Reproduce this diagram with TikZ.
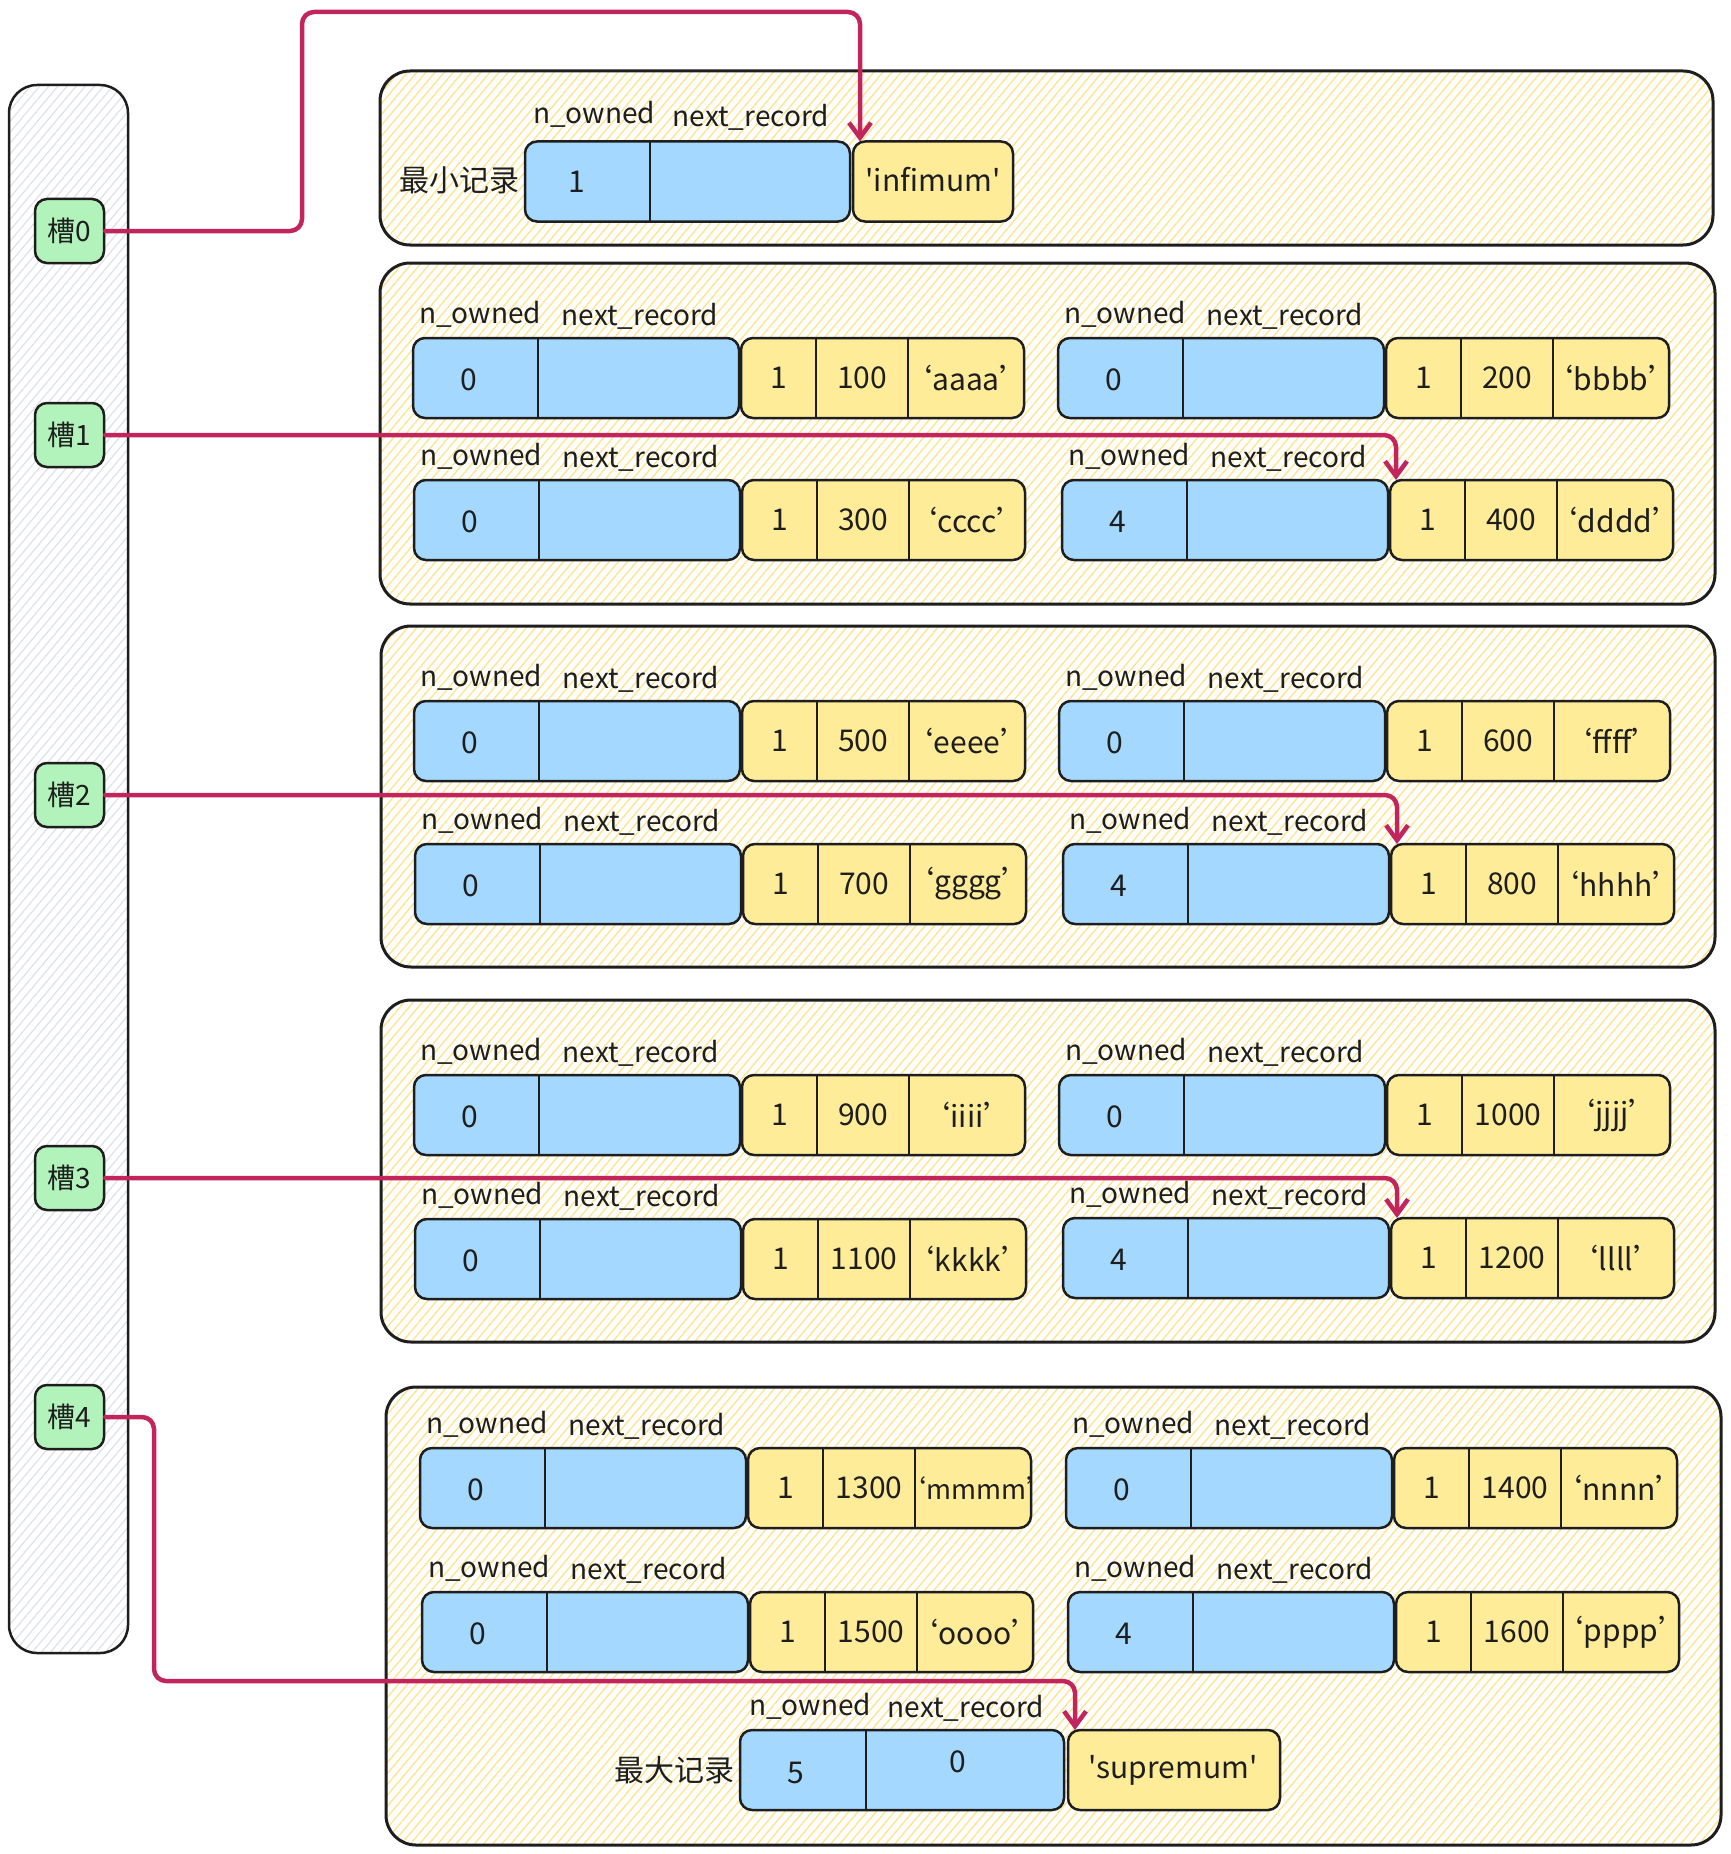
\documentclass[tikz,border=0pt]{standalone}
\usepackage{fontspec}
\setmainfont{Noto Sans CJK SC}
\usetikzlibrary{arrows.meta,patterns.meta}

\definecolor{recblue}{HTML}{A5D8FF}
\definecolor{recyellow}{HTML}{FFEC99}
\definecolor{slotgreen}{HTML}{B2F2BB}
\definecolor{linkred}{HTML}{C2255C}
\definecolor{hatchyellow}{HTML}{FFE48A}
\definecolor{hatchgrey}{HTML}{DEE2E6}
\definecolor{ink}{HTML}{1E1E1E}

\tikzset{
  cell/.style={draw=ink, line width=2.5pt, rounded corners=12pt, inner sep=0pt,
    outer sep=0pt, minimum height=80pt, anchor=west},
  bluebox/.style={cell, fill=recblue, minimum width=326pt},
  yelbox/.style={cell, fill=recyellow, minimum width=283pt},
  divider/.style={draw=ink, line width=2pt},
  val/.style={font=\fontsize{30}{36}\selectfont, text=ink, inner sep=0pt},
  lbl/.style={font=\fontsize{28}{34}\selectfont, text=ink, inner sep=0pt, anchor=base},
  group/.style={draw=ink, line width=3pt, rounded corners=30pt, inner sep=0pt,
    outer sep=0pt, anchor=north west,
    pattern={Lines[angle=50,distance=7pt,line width=1.3pt]}, pattern color=hatchyellow},
  column/.style={draw=ink, line width=2.5pt, rounded corners=28pt, inner sep=0pt,
    outer sep=0pt, anchor=north west,
    pattern={Lines[angle=50,distance=7pt,line width=1.2pt]}, pattern color=hatchgrey},
  slot/.style={draw=ink, fill=slotgreen, line width=2.5pt, rounded corners=12pt,
    minimum width=69pt, minimum height=64pt, inner sep=0pt,
    font=\fontsize{28}{34}\selectfont, text=ink},
  link/.style={draw=linkred, line width=4.5pt, rounded corners=12pt, line cap=round,
    line join=round, -{Straight Barb[length=15pt,width=22pt]}},
}

% one record: blue header (n_owned | next_record) followed by yellow data cells
% #1 name, #2 left x, #3 centre y, #4 n_owned, #5 key, #6 string
\newcommand{\drawrecord}[6]{%
  \node[bluebox] (#1b) at (#2,#3) {};
  \node[yelbox] (#1y) at (#2+328,#3) {};
  \draw[divider] ([xshift=125pt]#1b.north west) -- ([xshift=125pt]#1b.south west);
  \draw[divider] ([xshift=75pt]#1y.north west) -- ([xshift=75pt]#1y.south west);
  \draw[divider] ([xshift=167pt]#1y.north west) -- ([xshift=167pt]#1y.south west);
  \node[val] (#1n) at ([xshift=56pt,yshift=-2pt]#1b.west) {#4};
  \node[val] (#1c) at ([xshift=38pt]#1y.west) {1};
  \node[val] (#1k) at ([xshift=121pt]#1y.west) {#5};
  \node[val] (#1s) at ([xshift=225pt]#1y.west) {#6};
  \node[lbl] (#1la) at ([xshift=67pt,yshift=15pt]#1b.north west) {n\_owned};
  \node[lbl] (#1lb) at ([xshift=227pt,yshift=13pt]#1b.north west) {next\_record};
}

\begin{document}
\begin{tikzpicture}[x=1pt,y=-1pt]
\fill[white] (0,0) rectangle (1730,1854);
\useasboundingbox (0,0) rectangle (1730,1854);

% slot directory
\node[column, minimum width=119pt, minimum height=1568pt] (col) at (9,85) {};
\node[slot] (s0) at (69.5,231) {槽0};
\node[slot] (s1) at (69.5,435) {槽1};
\node[slot] (s2) at (69.5,795) {槽2};
\node[slot] (s3) at (69.5,1178) {槽3};
\node[slot] (s4) at (69.5,1417) {槽4};

% record groups
\node[group, minimum width=1333pt, minimum height=174pt] (g0) at (380,71) {};
\node[group, minimum width=1335pt, minimum height=341pt] (g1) at (380,263) {};
\node[group, minimum width=1334pt, minimum height=341pt] (g2) at (381,626) {};
\node[group, minimum width=1334pt, minimum height=342pt] (g3) at (381,1000) {};
\node[group, minimum width=1335pt, minimum height=458pt] (g4) at (386,1387) {};

% infimum
\node[bluebox, minimum width=325pt] (infb) at (525,181.5) {};
\node[yelbox, minimum width=160pt] (infy) at (853,181.5) {};
\draw[divider] ([xshift=125pt]infb.north west) -- ([xshift=125pt]infb.south west);
\node[val] (infn) at (577,182) {1};
\node[val] (infs) at (933,180) {\textquotesingle infimum\textquotesingle};
\node[lbl] (infla) at (594,124) {n\_owned};
\node[lbl] (inflb) at (751,127) {next\_record};
\node[val] (inft) at (459,180) {最小记录};

% ordinary records
\drawrecord{ra}{413}{378}{0}{100}{‘aaaa’}
\drawrecord{rb}{1058}{378}{0}{200}{‘bbbb’}
\drawrecord{rc}{414}{520}{0}{300}{‘cccc’}
\drawrecord{rd}{1062}{520}{4}{400}{‘dddd’}

\drawrecord{re}{414}{741}{0}{500}{‘eeee’}
\drawrecord{rf}{1059}{741}{0}{600}{‘ffff’}
\drawrecord{rg}{415}{884}{0}{700}{‘gggg’}
\drawrecord{rh}{1063}{884}{4}{800}{‘hhhh’}

\drawrecord{ri}{414}{1115}{0}{900}{‘iiii’}
\drawrecord{rj}{1059}{1115}{0}{1000}{‘jjjj’}
\drawrecord{rk}{415}{1259}{0}{1100}{‘kkkk’}
\drawrecord{rl}{1063}{1258}{4}{1200}{‘llll’}

\drawrecord{rm}{420}{1488}{0}{1300}{\hspace*{6pt}\fontsize{27}{32}\selectfont‘mmmm’}
\drawrecord{rn}{1066}{1488}{0}{1400}{‘nnnn’}
\drawrecord{ro}{422}{1632}{0}{1500}{‘oooo’}
\drawrecord{rp}{1068}{1632}{4}{1600}{‘pppp’}

% supremum
\node[bluebox, minimum width=324pt] (supb) at (740,1770) {};
\node[yelbox, minimum width=212pt] (supy) at (1068,1770) {};
\draw[divider] ([xshift=126pt]supb.north west) -- ([xshift=126pt]supb.south west);
\node[val] (supn) at (796,1773) {5};
\node[val] (supz) at (958,1762) {0};
\node[val] (sups) at (1173,1770) {\textquotesingle supremum\textquotesingle};
\node[lbl] (supla) at (810,1715) {n\_owned};
\node[lbl] (suplb) at (966,1717) {next\_record};
\node[val] (supt) at (674,1770) {最大记录};

% slot pointers
\draw[link] (s0.east) -| (302,12) -| ([xshift=7pt]infy.north west);
\draw[link] (s1.east) -| ([xshift=6pt]rdy.north west);
\draw[link] (s2.east) -| ([xshift=6pt]rhy.north west);
\draw[link] (s3.east) -| ([xshift=6pt]rly.north west);
\draw[link] (s4.east) -| (154,1681) -| ([xshift=7pt]supy.north west);
\end{tikzpicture}
\end{document}
